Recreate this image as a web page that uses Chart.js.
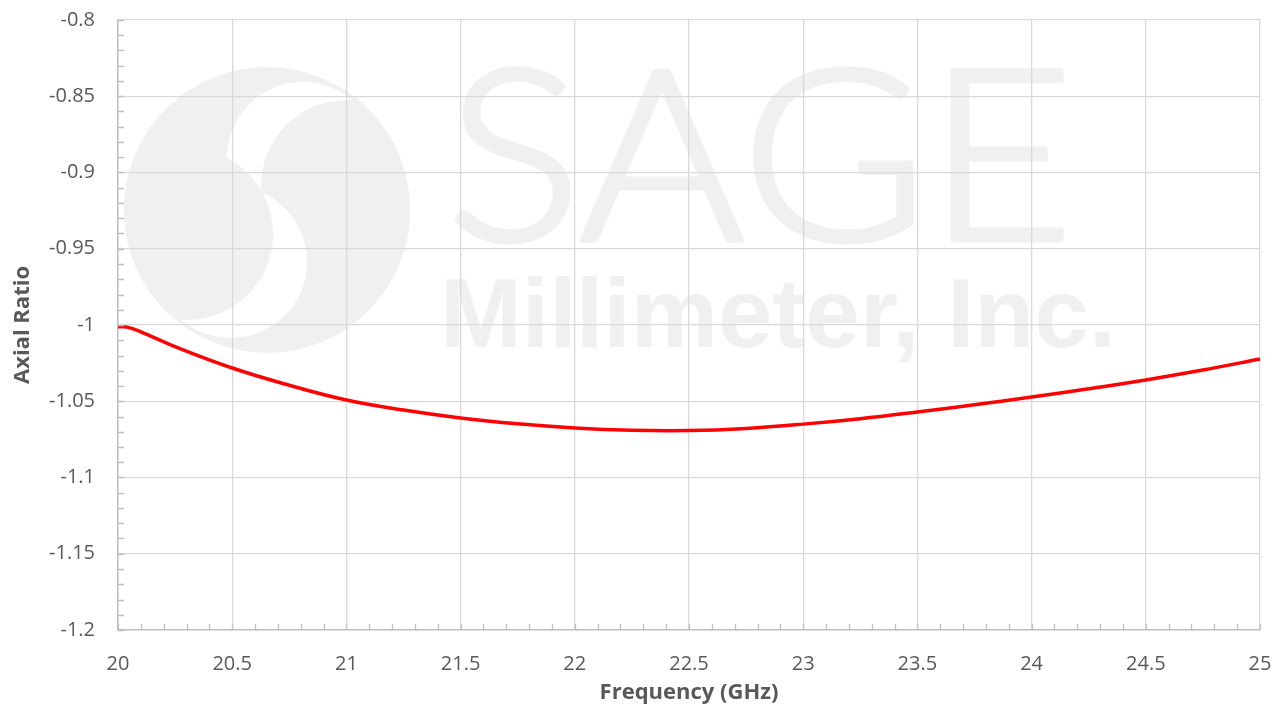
<!DOCTYPE html>
<html>
<head>
<meta charset="utf-8">
<script src="https://cdn.jsdelivr.net/npm/chart.js@4/dist/chart.umd.min.js"></script>
<style>
  html, body { margin: 0; padding: 0; background: #ffffff; }
  #wrap { width: 1283px; height: 709px; position: relative; }
</style>
</head>
<body>
<div id="wrap"><canvas id="chart"></canvas></div>
<script>
// ── Data ──────────────────────────────────────────────────────────────────────

const frequencyGHz = [20, 20.04, 20.1, 20.25, 20.5, 20.75, 21, 21.25, 21.5, 21.75, 22, 22.25, 22.5, 22.75, 23, 23.25, 23.5, 23.75, 24, 24.25, 24.5, 24.75, 25];
const axialRatio = [-1.0012, -1.0014, -1.0045, -1.0142, -1.0282, -1.0395, -1.0492, -1.0558, -1.061, -1.0648, -1.0675, -1.069, -1.0692, -1.0678, -1.065, -1.0614, -1.057, -1.0523, -1.0472, -1.0418, -1.036, -1.0295, -1.0223];

const xTickRange = { min: 20, max: 25, step: 0.5, minor: 0.1 };
const yTickRange = { min: -1.2, max: -0.8, step: 0.05, minor: 0.01 };

const gridColor = '#d9d9d9';
const axisColor = '#bfbfbf';
const textColor = '#595959';
const watermarkColor = '#f0f0f0';

// ── Helpers ───────────────────────────────────────────────────────────────────

function tidyNumber(v) {
    return String(Number(v.toFixed(3)));
}

// watermark logo + text, drawn before the grid so grid lines sit on top
const watermarkPlugin = {
    id: 'watermark',
    beforeDraw(chart) {
        const { ctx } = chart;
        ctx.save();
        ctx.fillStyle = '#ffffff';
        ctx.fillRect(0, 0, chart.width, chart.height);

        // circle logo with an S swoosh
        const cx = 267, cy = 210, r = 143;
        ctx.beginPath();
        ctx.arc(cx, cy, r, 0, Math.PI * 2);
        ctx.clip();
        ctx.fillStyle = watermarkColor;
        ctx.fillRect(cx - r, cy - r, 2 * r, 2 * r);
        const crescent = (wx, wy, wr, gx, gy, gr) => {
            ctx.fillStyle = '#ffffff';
            ctx.beginPath(); ctx.arc(wx, wy, wr, 0, Math.PI * 2); ctx.fill();
            ctx.fillStyle = watermarkColor;
            ctx.beginPath(); ctx.arc(gx, gy, gr, 0, Math.PI * 2); ctx.fill();
        };
        crescent(cx + 36, cy - 52, 76, cx + 80, cy - 24, 86);
        crescent(cx - 36, cy + 52, 76, cx - 80, cy + 24, 86);
        ctx.restore();

        ctx.save();
        ctx.fillStyle = watermarkColor;
        ctx.strokeStyle = watermarkColor;
        ctx.lineJoin = 'round';
        ctx.textBaseline = 'alphabetic';
        ctx.textAlign = 'left';
        const fitText = (text, font, x, baseline, width, thicken) => {
            ctx.font = font;
            const w = ctx.measureText(text).width;
            ctx.save();
            ctx.translate(x, baseline);
            ctx.scale(width / w, 1);
            ctx.fillText(text, 0, 0);
            if (thicken) {
                ctx.lineWidth = thicken;
                ctx.strokeText(text, 0, 0);
            }
            ctx.restore();
        };
        fitText('SAGE', '300 240px Lato', 446, 240, 628, 5);
        fitText('Millimeter, Inc.', 'bold 98px "Liberation Sans"', 440, 347, 676, 0);
        ctx.restore();
    },
};

// minor tick marks on the inside of both axes
const minorTicksPlugin = {
    id: 'minorTicks',
    afterDraw(chart) {
        const { ctx, scales: { x, y } } = chart;
        ctx.save();
        ctx.strokeStyle = axisColor;
        ctx.lineWidth = 1.3;
        ctx.beginPath();
        const ny = Math.round((yTickRange.max - yTickRange.min) / yTickRange.minor);
        for (let i = 0; i <= ny; i++) {
            const py = Math.round(y.getPixelForValue(yTickRange.min + i * yTickRange.minor)) + 0.5;
            ctx.moveTo(x.left, py);
            ctx.lineTo(x.left + 6, py);
        }
        const nx = Math.round((xTickRange.max - xTickRange.min) / xTickRange.minor);
        for (let i = 0; i <= nx; i++) {
            const px = Math.round(x.getPixelForValue(xTickRange.min + i * xTickRange.minor)) + 0.5;
            ctx.moveTo(px, y.bottom);
            ctx.lineTo(px, y.bottom - 6);
        }
        ctx.stroke();
        ctx.restore();
    },
};

// ── Chart ─────────────────────────────────────────────────────────────────────

new Chart(document.getElementById('chart'), {
    type: 'scatter',
    data: {
        datasets: [{
            data: frequencyGHz.map((f, i) => ({ x: f, y: axialRatio[i] })),
            showLine: true,
            borderColor: '#ff0000',
            borderWidth: 3.5,
            pointRadius: 0,
            tension: 0.4,
            clip: false,
        }],
    },
    options: {
        responsive: true,
        maintainAspectRatio: false,
        animation: false,
        layout: { padding: { top: 20, right: 23, left: 0, bottom: 0 } },
        plugins: { legend: { display: false }, tooltip: { enabled: false } },
        scales: {
            x: {
                type: 'linear',
                min: xTickRange.min,
                max: xTickRange.max,
                afterFit(scale) {
                    scale.height = 79;
                    scale.paddingLeft = 0;
                    scale.paddingRight = 0;
                },
                ticks: {
                    stepSize: xTickRange.step,
                    color: textColor,
                    font: { family: 'Open Sans', size: 20 },
                    padding: 22,
                    callback: (v) => tidyNumber(v),
                },
                grid: { color: gridColor, lineWidth: 1.3, drawTicks: false },
                border: { color: axisColor, width: 1.5 },
                title: {
                    display: true,
                    text: 'Frequency (GHz)',
                    color: textColor,
                    font: { family: 'Open Sans', size: 22, weight: 'bold' },
                    padding: { top: 0, bottom: 3 },
                },
            },
            y: {
                type: 'linear',
                min: yTickRange.min,
                max: yTickRange.max,
                afterFit(scale) {
                    scale.width = 118;
                    scale.paddingTop = 0;
                    scale.paddingBottom = 0;
                },
                ticks: {
                    stepSize: yTickRange.step,
                    color: textColor,
                    font: { family: 'Open Sans', size: 20 },
                    padding: 23,
                    callback: (v) => tidyNumber(v),
                },
                grid: { color: gridColor, lineWidth: 1.3, drawTicks: false },
                border: { color: axisColor, width: 1.5 },
                title: {
                    display: true,
                    text: 'Axial Ratio',
                    color: textColor,
                    font: { family: 'Open Sans', size: 22, weight: 'bold' },
                    padding: { top: 10, bottom: 0 },
                },
            },
        },
    },
    plugins: [watermarkPlugin, minorTicksPlugin],
});
</script>
</body>
</html>
